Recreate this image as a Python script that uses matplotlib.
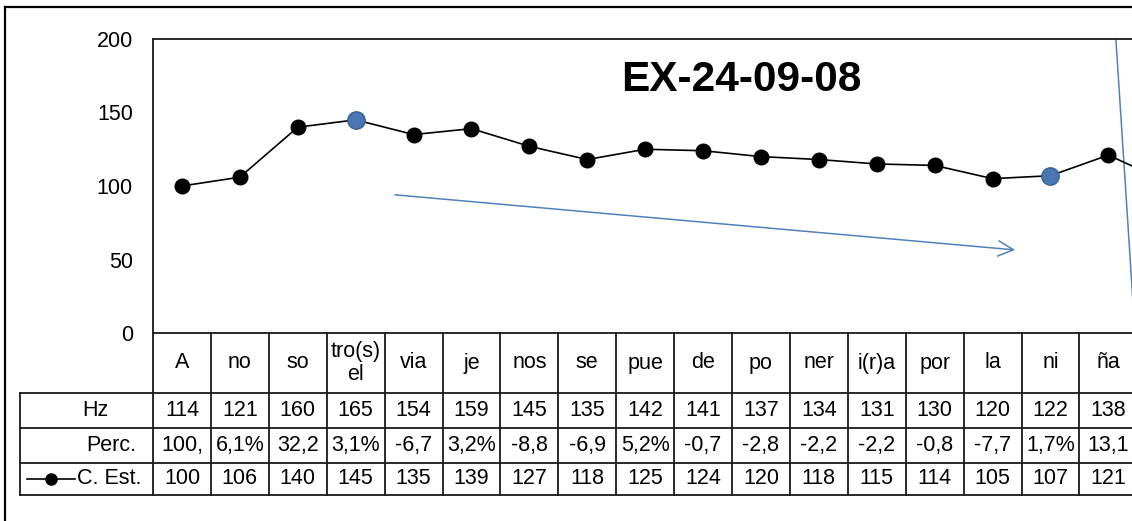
import matplotlib.pyplot as plt
from matplotlib.lines import Line2D

W, H = 1132, 521

syllables = ["A", "no", "so", "tro(s)\nel", "via", "je", "nos", "se", "pue",
             "de", "po", "ner", "i(r)a", "por", "la", "ni", "ña"]
hz = [114, 121, 160, 165, 154, 159, 145, 135, 142, 141, 137, 134, 131, 130,
      120, 122, 138]
perc = ["100,", "6,1%", "32,2", "3,1%", "-6,7", "3,2%", "-8,8", "-6,9", "5,2%",
        "-0,7", "-2,8", "-2,2", "-2,2", "-0,8", "-7,7", "1,7%", "13,1"]
# the last value belongs to a column that is cropped off the right edge
c_est = [100, 106, 140, 145, 135, 139, 127, 118, 125, 124, 120, 118, 115, 114,
         105, 107, 121, 103]
highlight = [3, 15]
yticks = [0, 50, 100, 150, 200]
title = "EX-24-09-08"

# hand-drawn annotations (data coords)
trend_arrow = ((3.68, 94.0), (14.39, 56.5))
side_line = ((16.13, 200), (16.46, 0))

plt.rcParams["font.family"] = ["Liberation Sans", "DejaVu Sans"]

COL_W = 57.9      # px per category
FS = 15.5
EDGE = "#1a1a1a"
BLUE = "#4f81bd"


def box(x0, y0, x1, y1):
    return [x0 / W, 1 - y1 / H, (x1 - x0) / W, (y1 - y0) / H]


def px_to_x(px):
    return (px - 153) / COL_W - 0.5


fig = plt.figure(figsize=(W / 100, H / 100), dpi=100)
n_slots = len(c_est)
right_px = 153 + n_slots * COL_W

# line chart
ax = fig.add_axes(box(153, 39, right_px, 333))
ax.set_xlim(-0.5, n_slots - 0.5)
ax.set_ylim(0, 200)
xs = list(range(len(c_est)))
ax.plot(xs, c_est, color="black", lw=1.2, marker="o", ms=10.5,
        mfc="black", mec="black", zorder=3)
ax.plot(highlight, [c_est[i] for i in highlight], "o", ms=12.5,
        mfc="#4a77b4", mec="#3b5f92", zorder=4)
ax.set_xticks([])
ax.set_yticks(yticks)
ax.tick_params(axis="y", length=0, pad=14.5, labelsize=FS)
for side in ["left", "top", "bottom"]:
    ax.spines[side].set_linewidth(1.3)
    ax.spines[side].set_color(EDGE)
ax.spines["right"].set_visible(False)

ax.annotate("", xy=trend_arrow[1], xytext=trend_arrow[0],
            arrowprops=dict(arrowstyle="->,head_length=1.0,head_width=0.5",
                            color=BLUE, lw=1.1, mutation_scale=11,
                            shrinkA=0, shrinkB=0))
ax.plot([side_line[0][0], side_line[1][0]], [side_line[0][1], side_line[1][1]],
        color=BLUE, lw=1.1)

fig.text(741 / W, 1 - 80 / H, title, fontsize=30.5, fontweight="bold",
         ha="center", va="center")

# data table under the chart
tab = fig.add_axes(box(153, 333, right_px, 495))
tab.set_xlim(-0.5, n_slots - 0.5)
tab.set_ylim(162, 0)
tab.axis("off")

rows = [0, 60, 95, 130, 162]
label_left = px_to_x(20)
last = len(syllables) - 0.5

for y in rows[1:]:
    tab.plot([label_left, last + 1], [y, y], color=EDGE, lw=1.3, clip_on=False)
for i in range(len(syllables) + 1):
    tab.plot([i - 0.5, i - 0.5], [0, rows[-1]], color=EDGE, lw=1.3, clip_on=False)
tab.plot([label_left, label_left], [rows[1], rows[-1]], color=EDGE, lw=1.3,
         clip_on=False)

mids = [(rows[k] + rows[k + 1]) / 2 for k in range(4)]
for i, name in enumerate(syllables):
    tab.text(i, mids[0], name, fontsize=FS, ha="center", va="center",
             linespacing=1.15)
    tab.text(i, mids[1], str(hz[i]), fontsize=FS, ha="center", va="center")
    tab.text(i, mids[2], perc[i], fontsize=FS, ha="center", va="center")
    tab.text(i, mids[3], str(c_est[i]), fontsize=FS, ha="center", va="center")

tab.text(px_to_x(95), mids[1], "Hz", fontsize=FS, ha="center", va="center")
tab.text(px_to_x(111), mids[2], "Perc.", fontsize=FS, ha="center", va="center")
tab.plot([px_to_x(27), px_to_x(75)], [mids[3], mids[3]], color="black", lw=1.2,
         clip_on=False)
tab.plot([px_to_x(51)], [mids[3]], "o", color="black", ms=8, clip_on=False)
tab.text(px_to_x(77), mids[3], "C. Est.", fontsize=FS, ha="left", va="center")

# outer frame (cropped on the right and bottom)
fig.add_artist(Line2D([5 / W, 5 / W], [1 - 7 / H, 0], color="black", lw=1.6))
fig.add_artist(Line2D([5 / W, 1], [1 - 7 / H, 1 - 7 / H], color="black", lw=1.6))

fig.savefig("out.png", dpi=100)
